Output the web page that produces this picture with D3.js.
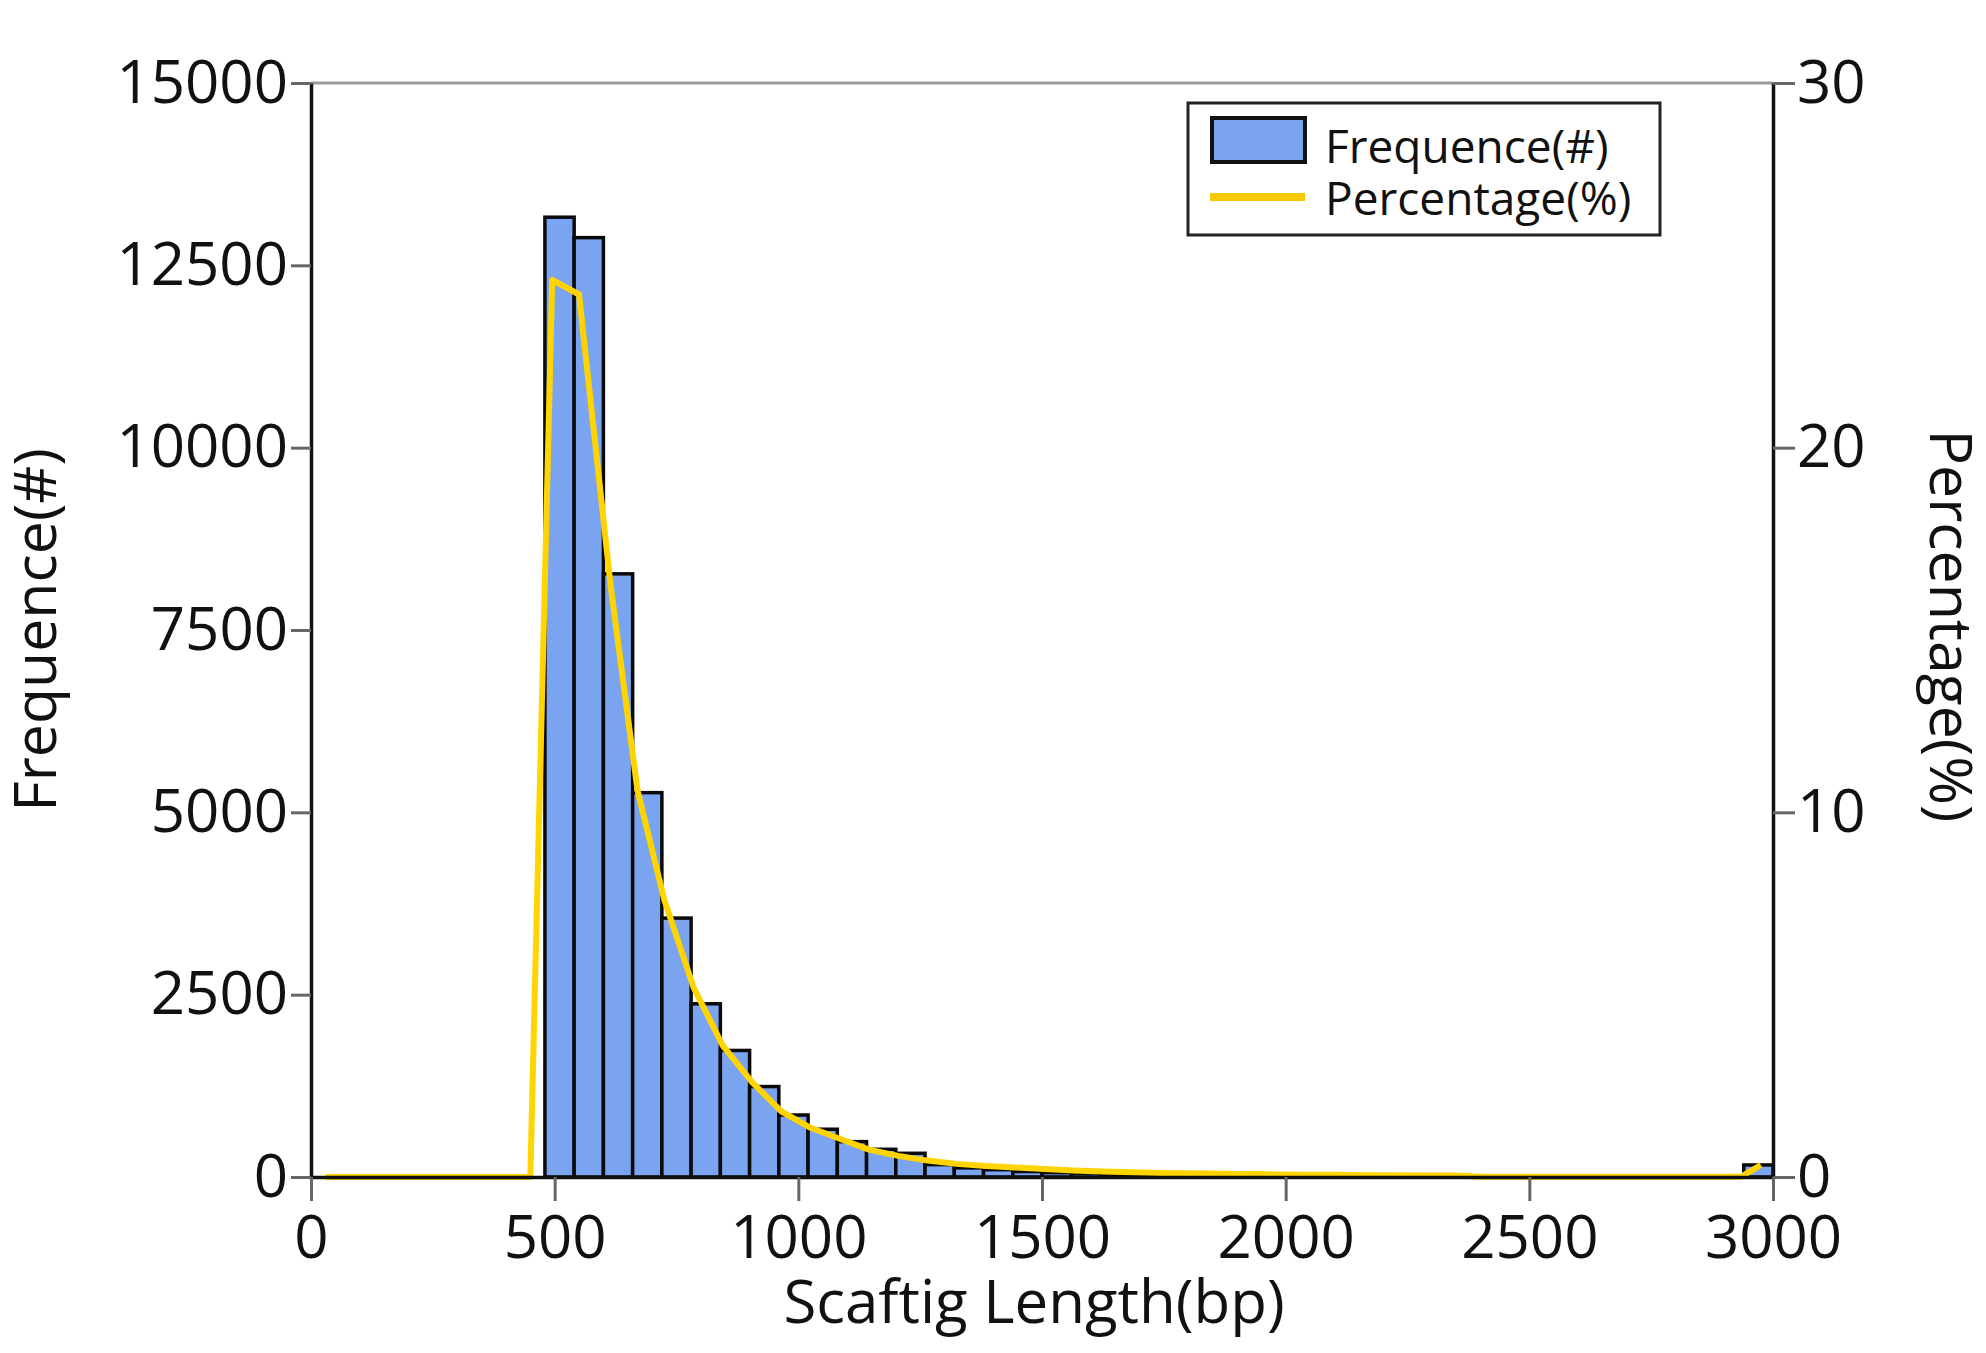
<!DOCTYPE html>
<html>
<head>
<meta charset="utf-8">
<title>Scaftig Length distribution</title>
<script src="https://cdn.jsdelivr.net/npm/d3@7"></script>
<style>
  body { margin: 0; background: #fff; }
  text { font-family: "Open Sans", "DejaVu Sans", sans-serif; fill: #111; }
</style>
</head>
<body>
<div id="chart"></div>
<script>
// histogram bins, 60 bp wide, 0..3000
var binWidth = 60;
var binCounts = [
  0, 0, 0, 0, 0, 0, 0, 0,
  13160, 12880, 8270, 5270, 3550, 2375, 1735, 1240, 850, 655,
  485, 380, 325, 170, 125, 100, 75, 60, 52, 45,
  40, 36, 32, 30, 27, 25, 22, 20, 18, 16,
  14, 10, 0, 0, 0, 0, 0, 0, 0, 0,
  0, 165
];

// percentage curve
var lineLength = [30, 450, 495, 550, 615, 670, 725, 785, 845, 905, 965, 1025, 1085, 1145,
  1205, 1265, 1325, 1385, 1445, 1505, 1565, 1625, 1685, 1745, 1805, 1865, 1925, 1985,
  2045, 2105, 2165, 2225, 2285, 2345, 2405, 2935, 2975];
var linePct = [0, 0, 24.6, 24.2, 16.2, 10.6, 7.6, 5.2, 3.6, 2.6, 1.8, 1.35, 1.05, 0.75,
  0.58, 0.45, 0.36, 0.3, 0.26, 0.22, 0.18, 0.15, 0.13, 0.11, 0.1, 0.09, 0.08, 0.07,
  0.06, 0.06, 0.05, 0.05, 0.04, 0.04, 0.01, 0.01, 0.33];

var xTicks = [0, 500, 1000, 1500, 2000, 2500, 3000];
var yTicks = [0, 2500, 5000, 7500, 10000, 12500, 15000];
var y2Ticks = [0, 10, 20, 30];

var W = 1986, H = 1353;
var plotL = 311, plotR = 1773, plotT = 83, plotB = 1177;

var svg = d3.select("#chart").append("svg")
  .attr("width", W)
  .attr("height", H);

var x = d3.scaleLinear().domain([0, 3000]).range([plotL, plotR]);
var y = d3.scaleLinear().domain([0, 15000]).range([plotB, plotT]);
var y2 = d3.scaleLinear().domain([0, 30]).range([plotB, plotT]);

var bins = binCounts.map(function(c, i) { return {x0: i * binWidth, x1: (i + 1) * binWidth, n: c}; })
  .filter(function(d) { return d.n > 0; });

// bars
svg.append("g").selectAll("rect")
  .data(bins)
  .enter().append("rect")
  .attr("x", function(d) { return x(d.x0); })
  .attr("y", function(d) { return y(d.n); })
  .attr("width", function(d) { return x(d.x1) - x(d.x0); })
  .attr("height", function(d) { return y(0) - y(d.n); })
  .attr("fill", "#7ba4f0")
  .attr("stroke", "#0a0a0a")
  .attr("stroke-width", 3.5);

// percentage line
var pts = lineLength.map(function(l, i) { return [l, linePct[i]]; });
var line = d3.line()
  .x(function(d) { return x(d[0]); })
  .y(function(d) { return y2(d[1]); });

svg.append("path")
  .datum(pts)
  .attr("d", line)
  .attr("fill", "none")
  .attr("stroke", "#ffd400")
  .attr("stroke-width", 6)
  .attr("stroke-linejoin", "round");

// top frame line
svg.append("line")
  .attr("x1", plotL).attr("x2", plotR)
  .attr("y1", plotT).attr("y2", plotT)
  .attr("stroke", "#999").attr("stroke-width", 3);

function styleAxis(g) {
  g.select(".domain").attr("stroke", "#111").attr("stroke-width", 3.5);
  g.selectAll(".tick line").attr("stroke", "#666").attr("stroke-width", 3);
  g.selectAll(".tick text").attr("font-size", 60).attr("fill", "#111")
    .style("font-family", '"Open Sans", sans-serif');
}

svg.append("g")
  .attr("transform", "translate(" + plotL + ",0)")
  .call(d3.axisLeft(y).tickValues(yTicks).tickFormat(d3.format("d"))
    .tickSize(20).tickSizeOuter(0).tickPadding(3))
  .call(styleAxis);

svg.append("g")
  .attr("transform", "translate(" + plotR + ",0)")
  .call(d3.axisRight(y2).tickValues(y2Ticks).tickFormat(d3.format("d"))
    .tickSize(22).tickSizeOuter(0).tickPadding(2))
  .call(styleAxis);

svg.append("g")
  .attr("transform", "translate(0," + plotB + ")")
  .call(d3.axisBottom(x).tickValues(xTicks).tickFormat(d3.format("d"))
    .tickSize(24).tickSizeOuter(0).tickPadding(14))
  .call(styleAxis);

// titles
svg.append("text")
  .attr("x", 1034)
  .attr("y", 1323)
  .attr("text-anchor", "middle")
  .attr("font-size", 60)
  .text("Scaftig Length(bp)");

svg.append("text")
  .attr("transform", "translate(56," + ((plotT + plotB) / 2) + ") rotate(-90)")
  .attr("text-anchor", "middle")
  .attr("font-size", 59)
  .text("Frequence(#)");

svg.append("text")
  .attr("transform", "translate(1930," + ((plotT + plotB) / 2 - 4) + ") rotate(90)")
  .attr("text-anchor", "middle")
  .attr("font-size", 59)
  .text("Percentage(%)");

// legend
var lg = svg.append("g");
lg.append("rect")
  .attr("x", 1188).attr("y", 103)
  .attr("width", 472).attr("height", 132)
  .attr("fill", "#fff")
  .attr("stroke", "#222").attr("stroke-width", 3);
lg.append("rect")
  .attr("x", 1212).attr("y", 118)
  .attr("width", 93).attr("height", 44)
  .attr("fill", "#7ba4f0")
  .attr("stroke", "#111").attr("stroke-width", 4);
lg.append("line")
  .attr("x1", 1210).attr("x2", 1305)
  .attr("y1", 197).attr("y2", 197)
  .attr("stroke", "#f5c800").attr("stroke-width", 8);
lg.append("text")
  .attr("x", 1325).attr("y", 163)
  .attr("font-size", 46)
  .text("Frequence(#)");
lg.append("text")
  .attr("x", 1325).attr("y", 215)
  .attr("font-size", 46)
  .text("Percentage(%)");
</script>
</body>
</html>
